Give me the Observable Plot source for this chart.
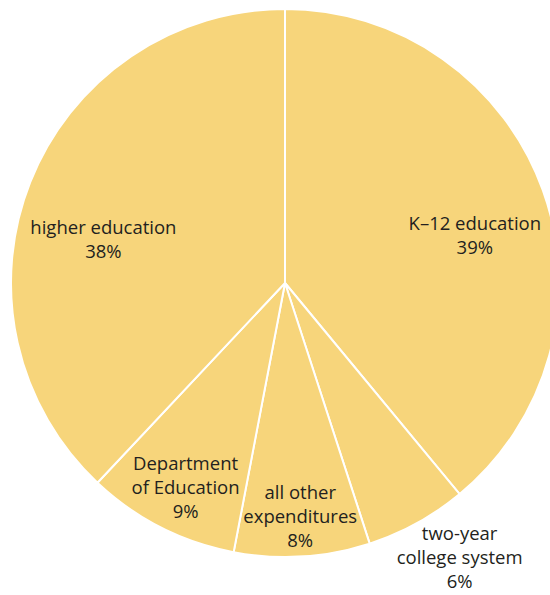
<!DOCTYPE html>
<html>
<head>
<meta charset="utf-8">
<script src="https://cdn.jsdelivr.net/npm/d3@7"></script>
<script src="https://cdn.jsdelivr.net/npm/@observablehq/plot@0.6"></script>
<style>
  html, body { margin: 0; padding: 0; background: #fff; }
  #chart svg { display: block; }
</style>
</head>
<body>
<div id="chart"></div>
<script>
// Data (clockwise from 12 o'clock)
const categories = ["K–12 education", "two-year\ncollege system", "all other\nexpenditures", "Department\nof Education", "higher education"];
const shares = [39, 6, 8, 9, 38];

// Label layout: radial fraction and angular nudge (degrees) relative to slice midpoint
const labelLayout = [
  {k: 0.712, nudge: 5.8},
  {k: 1.186, nudge: -3.6},
  {k: 0.856, nudge: 0},
  {k: 0.832, nudge: -1},
  {k: 0.683, nudge: -8.3}
];

const W = 550, H = 595, CX = 285, CY = 283, R = 274;
const fillColor = "#F7D57B";

const slices = d3.pie().sort(null).value(d => d.value)(
  categories.map((c, i) => ({category: c, value: shares[i]}))
);

const labels = slices.map((s, i) => {
  const a = (s.startAngle + s.endAngle) / 2 + labelLayout[i].nudge * Math.PI / 180;
  const k = labelLayout[i].k;
  return {
    x: k * Math.sin(a),
    y: -k * Math.cos(a),
    text: `${s.data.category}\n${s.data.value}%`
  };
});

function pieMark(index, scales) {
  const x = scales.x, y = scales.y;
  const cx = x(0), cy = y(0);
  const r = x(1) - x(0);
  const arc = d3.arc().innerRadius(0).outerRadius(r);
  const g = d3.create("svg:g").attr("transform", `translate(${cx},${cy})`);
  g.selectAll("path")
    .data(slices)
    .join("path")
    .attr("d", arc)
    .attr("fill", fillColor)
    .attr("stroke", "#ffffff")
    .attr("stroke-width", 2)
    .attr("stroke-linejoin", "round");
  return g.node();
}

const chart = Plot.plot({
  width: W,
  height: H,
  margin: 0,
  style: {background: "#fff", fontFamily: "'Open Sans', sans-serif"},
  x: {domain: [-1, 1], range: [CX - R, CX + R], axis: null},
  y: {domain: [-1, 1], range: [CY - R, CY + R], axis: null},
  marks: [
    pieMark,
    Plot.text(labels, {
      x: "x", y: "y", text: "text",
      fontSize: 18.5,
      lineHeight: 1.3,
      dy: -2,
      fill: "#231f20",
      textAnchor: "middle",
      fontFamily: "'Open Sans', sans-serif"
    })
  ]
});

document.getElementById("chart").appendChild(chart);
</script>
</body>
</html>
